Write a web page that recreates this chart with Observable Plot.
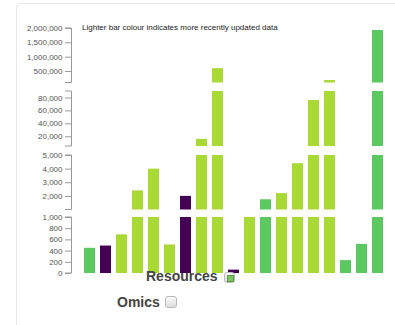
<!DOCTYPE html>
<html><head><meta charset="utf-8">
<script src="https://cdn.jsdelivr.net/npm/d3@7"></script>
<script src="https://cdn.jsdelivr.net/npm/@observablehq/plot@0.6"></script>
<style>
html,body{margin:0;padding:0;background:#fff;width:395px;height:325px;overflow:hidden;font-family:"Liberation Sans",Arial,Helvetica,sans-serif;}
#root{position:relative;width:395px;height:325px;overflow:hidden;}
.card{position:absolute;left:16px;top:3px;width:400px;height:360px;border:1px solid #e6e6e6;border-radius:4px;box-sizing:border-box;}
.panel{position:absolute;left:0;}
.panel svg{display:block;overflow:visible;}
.panel [aria-label="y-axis tick"], .panel .tick line{stroke:#9a9a9a;}
.title{position:absolute;left:82px;top:24px;font-size:8px;line-height:8px;color:#222;white-space:nowrap;}
.lbl{position:absolute;font-weight:bold;font-size:14px;line-height:14px;color:#444;white-space:nowrap;}
.cb{position:absolute;box-sizing:border-box;border:1px solid #b8b8b8;border-radius:3px;background:linear-gradient(#fbfbfb,#dcdcdc);}
.cb .in{position:absolute;left:2px;top:2px;width:5px;height:5px;background:#7cc860;border:1px solid #5c9a48;}
</style>
</head><body>
<div id="root">
  <div class="card"></div>
  <div class="title">Lighter bar colour indicates more recently updated data</div>
</div>
<script>
// ---- data ----
const categories = ["1","2","3","4","5","6","7","8","9","10","11","12","13","14","15","16","17","18","19"];
const values = [450, 490, 690, 2400, 4000, 510, 2000, 16000, 600000, 60, 1000, 1750, 2200, 4400, 76000, 185000, 230, 520, 1930000];
const ages = ["mid","old","new","new","new","new","old","new","new","old","new","mid","new","new","new","new","mid","mid","mid"];
const ageGroups = ["old", "mid", "new"];
const ageColours = ["#440154", "#5bc862", "#a8d934"];
const titleText = "Lighter bar colour indicates more recently updated data";
const checkboxLabels = ["Resources", "Omics"];

// axis segments (broken axis), bottom to top
const segDomains = [[0, 1000], [1000, 5000], [5000, 90000], [100000, 2000000]];
const segTicks = [[0, 200, 400, 600, 800, 1000], [2000, 3000, 4000, 5000], [20000, 40000, 60000, 80000], [500000, 1000000, 1500000, 2000000]];

const data = categories.map((c, i) => ({cat: c, value: values[i], age: ages[i]}));

// layout of each segment: [top, bottom] pixel positions on the page
const segLayout = [[217.3, 273.3], [155, 209.5], [91, 146], [28, 82.5]];

const root = document.getElementById("root");

function panel(k) {
  const [lo, hi] = segDomains[k];
  const [top, bottom] = segLayout[k];
  const mt = 6, mb = 6, ml = 71;
  const h = (bottom - top) + mt + mb;
  const svg = Plot.plot({
    width: 395, height: h,
    marginTop: mt, marginBottom: mb, marginLeft: ml, marginRight: 0,
    x: {domain: categories, padding: 0.34, axis: null},
    y: {domain: [lo, hi], clamp: true, ticks: segTicks[k], tickFormat: d3.format(","), tickSize: 6, tickPadding: 3, label: null},
    color: {domain: ageGroups, range: ageColours},
    style: {fontSize: "8px", fontFamily: "'Liberation Sans', Arial, sans-serif", color: "#555", background: "transparent", overflow: "visible"},
    marks: [
      Plot.barY(data, {x: "cat", y: "value", fill: "age"})
    ]
  });
  d3.select(svg).append("path")
    .attr("d", `M${ml - 6},${mt}H${ml + 0.5}V${h - mb}H${ml - 6}`)
    .attr("fill", "none").attr("stroke", "#9a9a9a").attr("stroke-width", 1);
  const wrap = document.createElement("div");
  wrap.className = "panel";
  wrap.style.top = (top - mt) + "px";
  wrap.appendChild(svg);
  root.appendChild(wrap);
}
[3, 2, 1, 0].forEach(panel);

// checkbox labels
function label(text, left, top, cbLeft, cbTop, cbSize, checked) {
  const d = document.createElement("div");
  d.className = "lbl"; d.textContent = text;
  d.style.left = left + "px"; d.style.top = top + "px";
  root.appendChild(d);
  const c = document.createElement("div");
  c.className = "cb";
  c.style.left = cbLeft + "px"; c.style.top = cbTop + "px";
  c.style.width = cbSize[0] + "px"; c.style.height = cbSize[1] + "px";
  if (checked) { const i = document.createElement("div"); i.className = "in"; c.appendChild(i); }
  root.appendChild(c);
}
label(checkboxLabels[0], 146, 269, 224, 271.5, [11, 11], true);
label(checkboxLabels[1], 117, 295, 164.5, 296, [12, 11.5], false);
document.querySelector(".title").textContent = titleText;
</script>
</body></html>
